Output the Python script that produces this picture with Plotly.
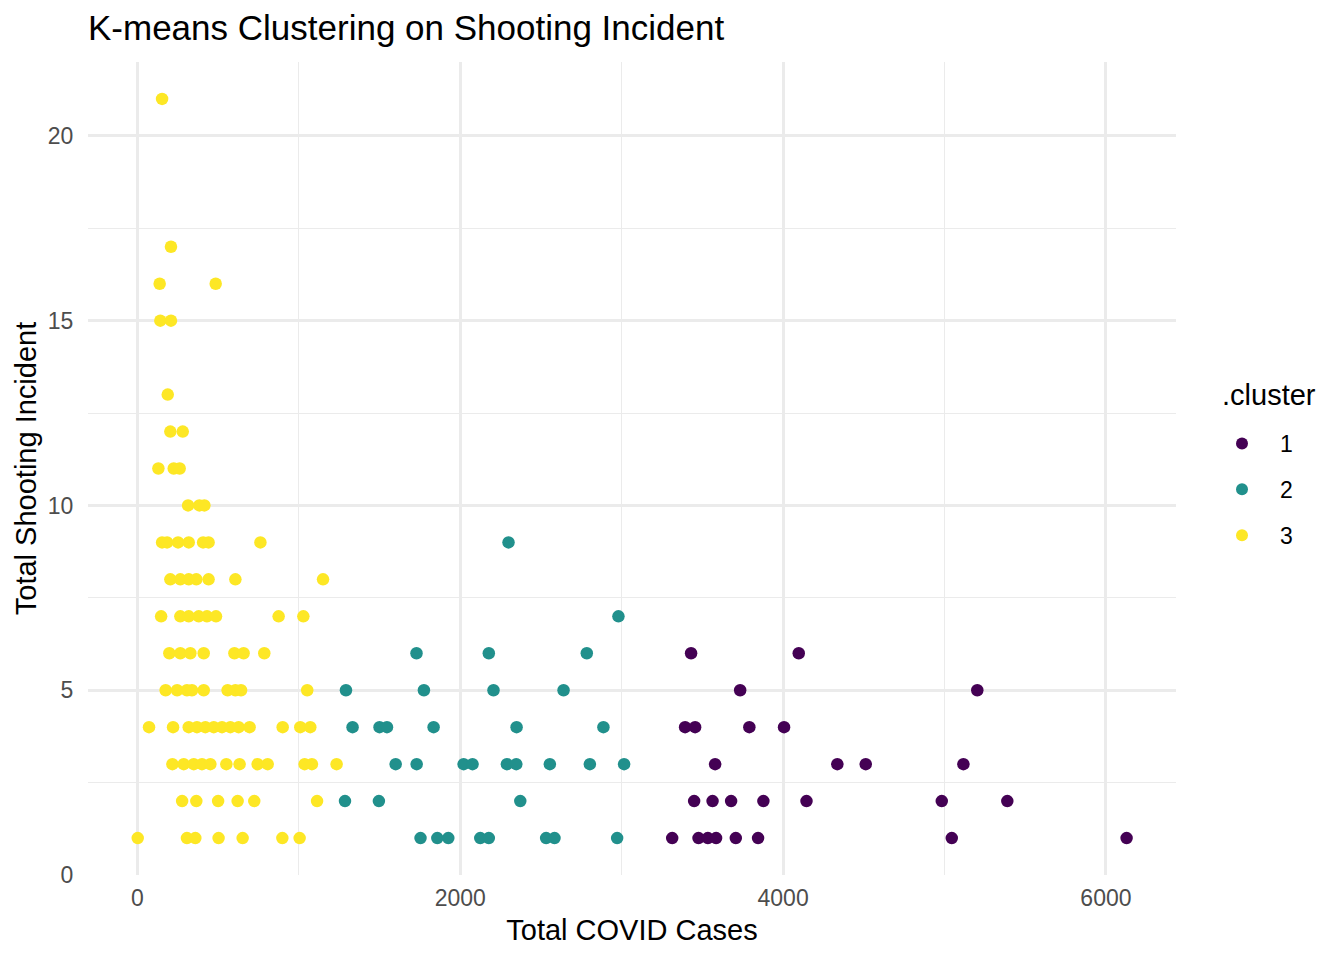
import plotly.graph_objects as go

# Data (x = total covid cases, y = total shooting incidents)

cluster1_cases = [3430, 4097, 3734, 5203, 3393, 3455, 3791, 4006, 3579, 4336, 4512, 5117,
                  3449, 3563, 3678, 3878, 4145, 4983, 5389,
                  3313, 3476, 3534, 3585, 3707, 3845, 5045, 6128]
cluster1_shootings = [6, 6, 5, 5, 4, 4, 4, 4, 3, 3, 3, 3,
                      2, 2, 2, 2, 2, 2, 2,
                      1, 1, 1, 1, 1, 1, 1, 1]

cluster2_cases = [2299, 2980, 1729, 2177, 2784, 1292, 1775, 2206, 2640,
                  1333, 1500, 1546, 1835, 2349, 2887,
                  1600, 1730, 2021, 2076, 2289, 2347, 2555, 2803, 3015,
                  1286, 1496, 2372,
                  1754, 1858, 1926, 2124, 2177, 2532, 2584, 2972]
cluster2_shootings = [9, 7, 6, 6, 6, 5, 5, 5, 5,
                      4, 4, 4, 4, 4, 4,
                      3, 3, 3, 3, 3, 3, 3, 3, 3,
                      2, 2, 2,
                      1, 1, 1, 1, 1, 1, 1, 1]

cluster3_cases = [153, 208, 138, 485, 142, 208, 188, 204, 281, 130, 225, 262,
                  314, 384, 415,
                  153, 184, 252, 318, 407, 441, 762,
                  204, 266, 318, 365, 441, 607, 1150,
                  147, 266, 318, 380, 431, 487, 875, 1028,
                  198, 266, 328, 411, 601, 658, 786,
                  175, 246, 307, 338, 411, 559, 607, 642, 1052,
                  72, 221, 318, 369, 421, 473, 524, 576, 627, 695, 900, 1009, 1071,
                  217, 287, 349, 400, 452, 551, 633, 745, 807, 1036, 1081, 1234,
                  277, 365, 500, 621, 724, 1113,
                  2, 307, 359, 503, 652, 898, 1005]
cluster3_shootings = [21, 17, 16, 16, 15, 15, 13, 12, 12, 11, 11, 11,
                      10, 10, 10,
                      9, 9, 9, 9, 9, 9, 9,
                      8, 8, 8, 8, 8, 8, 8,
                      7, 7, 7, 7, 7, 7, 7, 7,
                      6, 6, 6, 6, 6, 6, 6,
                      5, 5, 5, 5, 5, 5, 5, 5, 5,
                      4, 4, 4, 4, 4, 4, 4, 4, 4, 4, 4, 4, 4,
                      3, 3, 3, 3, 3, 3, 3, 3, 3, 3, 3, 3,
                      2, 2, 2, 2, 2, 2,
                      1, 1, 1, 1, 1, 1, 1]

cluster_names = ["1", "2", "3"]
cluster_colors = ["#440154", "#21908C", "#FDE725"]

FONT = "Liberation Sans, Arial, sans-serif"

# the page puts the figure 8px in from the top left, so the figure is 8px smaller
W, H = 1336, 952

fig = go.Figure()

all_x = [cluster1_cases, cluster2_cases, cluster3_cases]
all_y = [cluster1_shootings, cluster2_shootings, cluster3_shootings]

for name, color, xs, ys in zip(cluster_names, cluster_colors, all_x, all_y):
    fig.add_trace(go.Scatter(x=xs, y=ys, mode="markers", name=name, legendgroup=name,
                             marker=dict(color=color, size=12.5, line=dict(width=0))))

# Axes, ggplot theme_minimal look
fig.update_xaxes(range=[-306, 6434], tickvals=[0, 2000, 4000, 6000], showline=False, zeroline=False,
                 showgrid=True, gridcolor="#EBEBEB", gridwidth=2.5,
                 minor=dict(dtick=1000, tick0=0, showgrid=True, gridcolor="#EBEBEB", gridwidth=1.3),
                 ticks="outside", ticklen=2, tickcolor="rgba(0,0,0,0)",
                 tickfont=dict(family=FONT, size=23, color="#4D4D4D"),
                 title=dict(text="Total COVID Cases", standoff=10,
                            font=dict(family=FONT, size=29, color="black")))
fig.update_yaxes(range=[0, 22], tickvals=[0, 5, 10, 15, 20], showline=False, zeroline=False,
                 showgrid=True, gridcolor="#EBEBEB", gridwidth=2.5,
                 minor=dict(dtick=2.5, tick0=0, showgrid=True, gridcolor="#EBEBEB", gridwidth=1.3),
                 ticks="outside", ticklen=9, tickcolor="rgba(0,0,0,0)",
                 tickfont=dict(family=FONT, size=23, color="#4D4D4D"),
                 title=dict(text="Total Shooting Incident", standoff=2,
                            font=dict(family=FONT, size=29, color="black")))

# legend title as its own text so the gap under it matches ggplot
fig.add_annotation(text=".cluster", xref="paper", yref="paper", x=(1220 - 88) / 1088, y=(875 - 395) / 813,
                   xanchor="left", yanchor="middle", showarrow=False,
                   font=dict(family=FONT, size=29, color="black"))

fig.update_layout(
    width=W, height=H,
    margin=dict(l=80, r=168, t=54, b=85),
    plot_bgcolor="white", paper_bgcolor="white",
    title=dict(text="K-means Clustering on Shooting Incident", xref="container", x=80 / W, xanchor="left",
               yref="container", y=1 - 20 / H, yanchor="middle",
               font=dict(family=FONT, size=35, color="black")),
    legend=dict(font=dict(family=FONT, size=23, color="black"),
                x=(1204 - 88) / 1088, xanchor="left", y=(875 - 422) / 813, yanchor="top",
                itemwidth=66, tracegroupgap=13, itemsizing="constant", bgcolor="rgba(0,0,0,0)"),
)

fig.write_html("out.html")
